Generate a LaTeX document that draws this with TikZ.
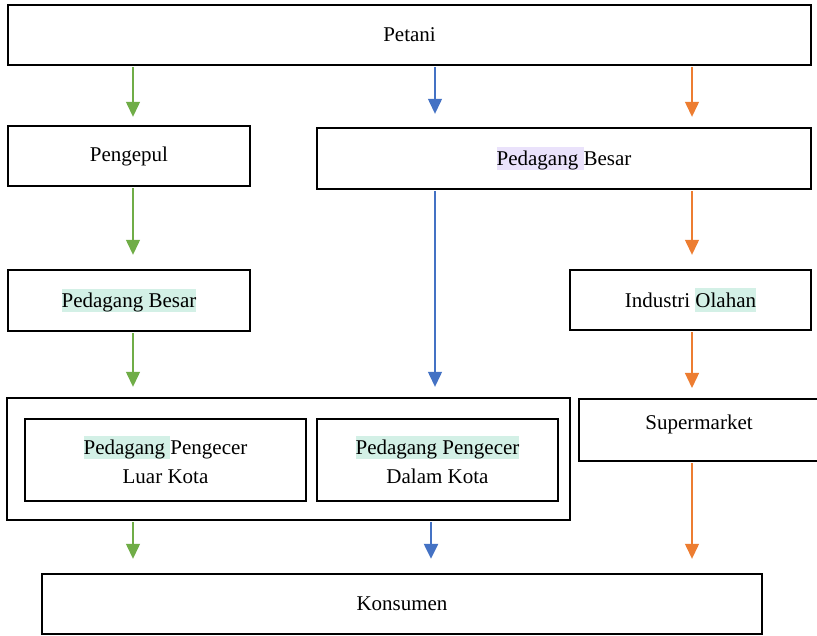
\documentclass[tikz,border=0pt]{standalone}
\usepackage{fontspec}
\setmainfont{Liberation Serif}
\usetikzlibrary{arrows.meta}
\definecolor{hlgreen}{HTML}{D3F0E6}
\definecolor{hlpurple}{HTML}{EAE2FB}
\definecolor{cgreen}{HTML}{70AD47}
\definecolor{cblue}{HTML}{4472C4}
\definecolor{corange}{HTML}{ED7D31}
\newcommand{\hlt}[2]{{\setlength{\fboxsep}{0pt}\colorbox{#1}{\rule[-0.22em]{0pt}{1.12em}#2}}}
\tikzset{
  box/.style={draw=black, line width=2.4pt, rectangle, inner sep=0pt, align=center,
    font=\fontsize{21}{29}\selectfont},
  flow/.style={line width=1.3pt, -{Triangle[length=15pt,width=14pt]}},
  gflow/.style={flow, draw=cgreen, fill=cgreen},
  bflow/.style={flow, draw=cblue, fill=cblue},
  oflow/.style={flow, draw=corange, fill=corange},
}
\begin{document}
\begin{tikzpicture}[x=1pt,y=-1pt]
\useasboundingbox (0,0) rectangle (817,636);
\fill[white] (0,0) rectangle (817,636);
% boxes
\node[box, minimum width=803pt, minimum height=60pt] (petani) at (409.5,35) {\raisebox{1pt}{Petani}};
\node[box, minimum width=242pt, minimum height=60pt] (pengepul) at (129,156) {Pengepul};
\node[box, minimum width=494pt, minimum height=61pt] (pbmid) at (564,158.5) {\hlt{hlpurple}{Pedagang }Besar};
\node[box, minimum width=242pt, minimum height=61pt] (pbleft) at (129,300.5) {\raisebox{3pt}{\hlt{hlgreen}{Pedagang Besar}}};
\node[box, minimum width=241pt, minimum height=60pt] (industri) at (690.5,300) {\raisebox{3pt}{Industri \hlt{hlgreen}{Olahan}}};
\node[box, minimum width=563pt, minimum height=122pt] (outer) at (288.5,459) {};
\node[box, minimum width=281pt, minimum height=82pt] (luar) at (165.5,460) {\hlt{hlgreen}{Pedagang }Pengecer\\Luar Kota};
\node[box, minimum width=241pt, minimum height=82pt] (dalam) at (437.5,460) {\hlt{hlgreen}{Pedagang Pengecer}\\Dalam Kota};
\node[box, minimum width=240pt, minimum height=62pt, anchor=north west] (super) at (578,398) {};
\node[font=\fontsize{21}{29}\selectfont, inner sep=0pt] (supertext) at (699,424) {Supermarket};
\node[box, minimum width=720pt, minimum height=60pt] (konsumen) at (402,604) {Konsumen};
% axis coordinates
\coordinate (gx) at (133,0);
\coordinate (bx) at (435,0);
\coordinate (bx2) at (431,0);
\coordinate (ox) at (692,0);
% green chain
\draw[gflow, shorten <=1pt, shorten >=8pt] (petani.south -| gx) -- (pengepul.north -| gx);
\draw[gflow, shorten <=1pt, shorten >=14pt] (pengepul.south -| gx) -- (pbleft.north -| gx);
\draw[gflow, shorten <=1pt, shorten >=10pt] (pbleft.south -| gx) -- (outer.north -| gx);
\draw[gflow, shorten <=1pt, shorten >=14pt] (outer.south -| gx) -- (konsumen.north -| gx);
% blue chain
\draw[bflow, shorten <=1pt, shorten >=13pt] (petani.south -| bx) -- (pbmid.north -| bx);
\draw[bflow, shorten <=1pt, shorten >=10pt] (pbmid.south -| bx) -- (outer.north -| bx);
\draw[bflow, line width=2.4pt, shorten <=1pt, shorten >=14pt] (outer.south -| bx2) -- (konsumen.north -| bx2);
% orange chain
\draw[oflow, shorten <=1pt, shorten >=10pt] (petani.south -| ox) -- (pbmid.north -| ox);
\draw[oflow, shorten <=1pt, shorten >=14pt] (pbmid.south -| ox) -- (industri.north -| ox);
\draw[oflow, shorten <=1pt, shorten >=10pt] (industri.south -| ox) -- (super.north -| ox);
\draw[oflow, shorten <=1pt, shorten >=14pt] (super.south -| ox) -- (konsumen.north -| ox);
\end{tikzpicture}
\end{document}
